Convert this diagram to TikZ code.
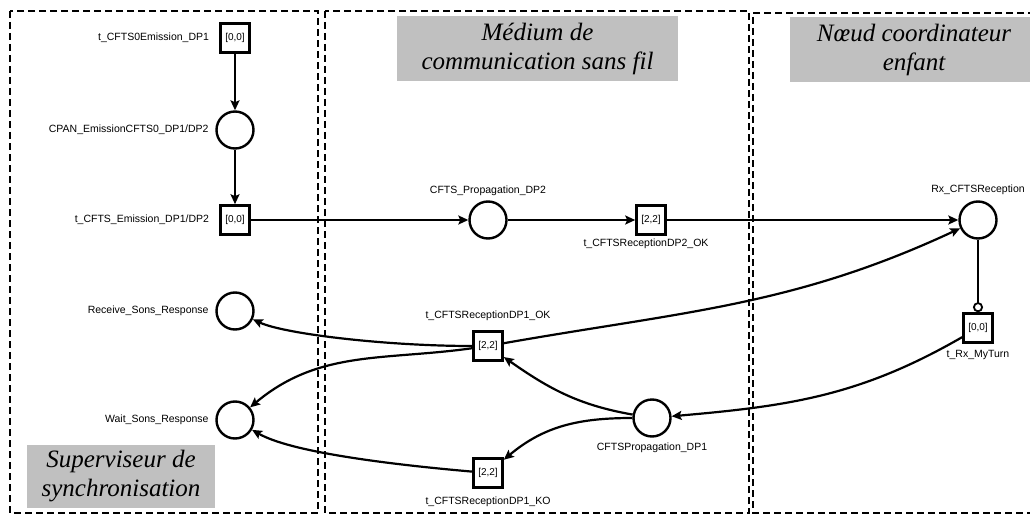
\documentclass[tikz,border=0pt]{standalone}
\usepackage{fontspec}
\setmainfont{Liberation Serif}
\setsansfont{Liberation Sans}
\definecolor{titlegray}{RGB}{192,192,192}
\usetikzlibrary{arrows.meta,positioning}

\begin{document}
\begin{tikzpicture}[x=1pt,y=1pt,
  pnplace/.style={circle,draw,line width=2.4pt,minimum size=37pt,inner sep=0pt},
  pntrans/.style={rectangle,draw,line width=2.6pt,minimum size=29pt,inner sep=0pt,font=\sffamily\fontsize{10}{11}\selectfont},
  lbl/.style={font=\sffamily\fontsize{10.5}{12}\selectfont,inner sep=1pt},
  arc/.style={line width=2.2pt,-{Stealth[length=10pt,width=9pt,inset=2pt]}},
  inhib/.style={line width=2.2pt,-{Circle[open,length=10pt,width=10pt,line width=1.8pt]}},
  zone/.style={draw,line width=1.2pt,dash pattern=on 7pt off 4pt},
  zonetitle/.style={fill=titlegray,font=\itshape\fontsize{25}{29}\selectfont,align=center,inner sep=0pt}]
  \useasboundingbox (0,0) rectangle (1030,-516);
  % zones
  \draw[zone] (10,-11) rectangle (318,-513);
  \draw[zone] (325,-11) rectangle (749,-513);
  \draw[zone] (1035,-13) -- (753,-13) -- (753,-513) -- (1035,-513);
  \node[zonetitle,minimum width=281pt,minimum height=65pt] (titlemedium) at (537.5,-48.5) {Médium de\\communication sans fil};
  \node[zonetitle,minimum width=248pt,minimum height=65pt] (titlenoeud) at (914,-49.5) {Nœud coordinateur\\enfant};
  \node[zonetitle,minimum width=188pt,minimum height=63pt] (titlesuper) at (121,-476.5) {Superviseur de\\synchronisation};
  % places and transitions
  \node[pntrans] (t0) at (235,-38) {[0,0]};
  \node[pnplace] (cpan) at (235,-130) {};
  \node[pntrans] (temis) at (235,-220) {[0,0]};
  \node[pnplace] (recv) at (235,-311) {};
  \node[pnplace] (wait) at (235,-420) {};
  \node[pnplace] (prop2) at (488,-220) {};
  \node[pntrans] (trec2) at (651,-220) {[2,2]};
  \node[pnplace] (rx) at (978,-220) {};
  \node[pntrans] (myturn) at (978,-328) {[0,0]};
  \node[pntrans] (trec1ok) at (488,-346) {[2,2]};
  \node[pntrans] (trec1ko) at (488,-473) {[2,2]};
  \node[pnplace] (prop1) at (652,-418) {};
  % labels
  \node[lbl,left=9pt of t0] (t0lbl) {t\_CFTS0Emission\_DP1};
  \node[lbl,left=5.5pt of cpan] (cpanlbl) {CPAN\_EmissionCFTS0\_DP1/DP2};
  \node[lbl,left=9pt of temis] (temislbl) {t\_CFTS\_Emission\_DP1/DP2};
  \node[lbl,left=5.5pt of recv] (recvlbl) {Receive\_Sons\_Response};
  \node[lbl,left=5.5pt of wait] (waitlbl) {Wait\_Sons\_Response};
  \node[lbl,above=3pt of prop2] (prop2lbl) {CFTS\_Propagation\_DP2};
  \node[lbl,below=2pt of trec2,xshift=-5pt] (trec2lbl) {t\_CFTSReceptionDP2\_OK};
  \node[lbl,above=4pt of rx] (rxlbl) {Rx\_CFTSReception};
  \node[lbl,below=5pt of myturn] (myturnlbl) {t\_Rx\_MyTurn};
  \node[lbl,above=8pt of trec1ok] (trec1oklbl) {t\_CFTSReceptionDP1\_OK};
  \node[lbl,below=7pt of trec1ko] (trec1kolbl) {t\_CFTSReceptionDP1\_KO};
  \node[lbl,below=4pt of prop1] (prop1lbl) {CFTSPropagation\_DP1};
  % arcs
  \draw[arc] (t0) -- (cpan);
  \draw[arc] (cpan) -- (temis);
  \draw[arc] (temis) -- (prop2);
  \draw[arc] (prop2) -- (trec2);
  \draw[arc] (trec2) -- (rx);
  \draw[inhib] (rx) -- (myturn);
  \draw[arc] (myturn) to[out=210,in=5] (prop1);
  \draw[arc] (prop1) to[out=170,in=-35] (trec1ok);
  \draw[arc] (prop1) to[out=180,in=40] (trec1ko);
  \draw[arc] (trec1ok) to[out=10,in=205] (rx);
  \draw[arc] (trec1ok) to[out=180,in=-25,in looseness=0.4] (recv);
  \draw[arc] (trec1ok) to[out=188,in=40] (wait);
  \draw[arc] (trec1ko) to[out=175,in=-30,in looseness=0.5] (wait);
\end{tikzpicture}
\end{document}
